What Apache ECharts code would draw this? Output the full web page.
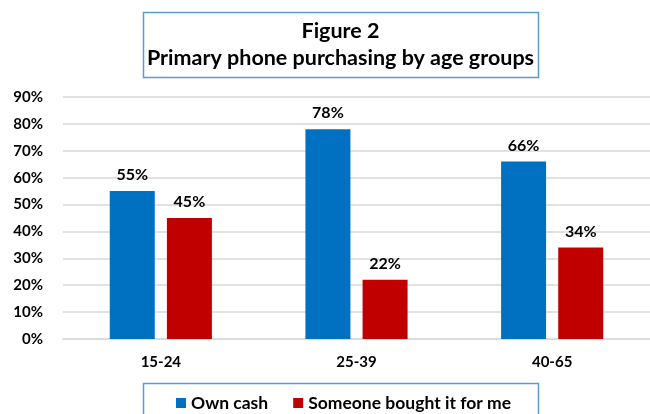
<!DOCTYPE html>
<html>
<head>
<meta charset="utf-8">
<script src="https://cdn.jsdelivr.net/npm/echarts@6/dist/echarts.min.js"></script>
<style>
  html, body { margin: 0; padding: 0; background: #fff; }
  #chart { width: 650px; height: 414px; }
</style>
</head>
<body>
<div id="chart"></div>
<script>
  const categories = ['15-24', '25-39', '40-65'];
  const ownCash = [55, 78, 66];
  const boughtForMe = [45, 22, 34];
  const seriesNames = ['Own cash', 'Someone bought it for me'];
  const titleLines = ['Figure 2', 'Primary phone purchasing by age groups'];

  const font = 'Lato, "Open Sans", sans-serif';
  const chart = echarts.init(document.getElementById('chart'));

  const labelStyle = {
    show: true,
    position: 'top',
    distance: 8,
    formatter: '{c}%',
    color: '#000',
    fontWeight: 'bold',
    fontSize: 16,
    fontFamily: font,
  };

  const titleText = (text, y) => ({
    type: 'text',
    x: 340.5,
    y,
    style: {
      text,
      fill: '#000',
      font: `bold 21.5px ${font}`,
      textAlign: 'center',
      textVerticalAlign: 'middle',
    },
    z: 100,
  });

  chart.setOption({
    animation: false,
    graphic: [
      {
        type: 'rect',
        shape: { x: 143.5, y: 12.5, width: 395, height: 65 },
        style: { fill: 'none', stroke: '#5B9BD5', lineWidth: 1.5 },
        z: 100,
      },
      titleText(titleLines[0], 31),
      titleText(titleLines[1], 58),
      {
        type: 'rect',
        shape: { x: 143.5, y: 383.5, width: 395, height: 40 },
        style: { fill: 'none', stroke: '#5B9BD5', lineWidth: 1.5 },
        z: 100,
      },
    ],
    legend: {
      data: seriesNames,
      left: 171,
      top: 389,
      itemWidth: 10,
      itemHeight: 10,
      itemGap: 25,
      icon: 'rect',
      textStyle: {
        fontFamily: font,
        fontWeight: 'bold',
        fontSize: 17.5,
        color: '#000',
      },
    },
    grid: {
      left: 63,
      right: -13,
      top: 97,
      bottom: 75,
    },
    xAxis: {
      type: 'category',
      data: categories,
      axisTick: { show: false },
      axisLine: { lineStyle: { color: '#D9D9D9', width: 1.5 } },
      axisLabel: {
        margin: 16,
        color: '#000',
        fontWeight: 'bold',
        fontSize: 15,
        fontFamily: font,
      },
    },
    yAxis: {
      type: 'value',
      min: 0,
      max: 90,
      interval: 10,
      axisLabel: {
        formatter: '{value}%',
        margin: 20,
        color: '#000',
        fontWeight: 'bold',
        fontSize: 15,
        fontFamily: font,
      },
      splitLine: { lineStyle: { color: '#D9D9D9', width: 1.5 } },
    },
    series: [
      {
        name: seriesNames[0],
        type: 'bar',
        data: ownCash,
        barWidth: 45,
        barGap: '27%',
        itemStyle: { color: '#0070C0' },
        label: labelStyle,
      },
      {
        name: seriesNames[1],
        type: 'bar',
        data: boughtForMe,
        barWidth: 45,
        itemStyle: { color: '#C00000' },
        label: labelStyle,
      },
    ],
  });
</script>
</body>
</html>
